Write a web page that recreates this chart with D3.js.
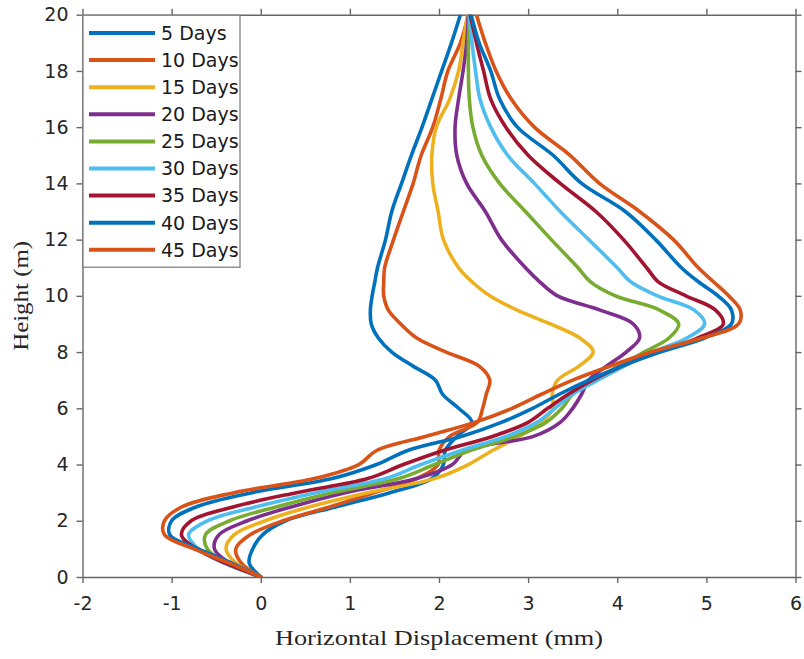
<!DOCTYPE html>
<html>
<head>
<meta charset="utf-8">
<script src="https://cdn.jsdelivr.net/npm/d3@7"></script>
<style>
  html, body { margin: 0; padding: 0; background: #fff; }
  svg { display: block; }
</style>
</head>
<body>
<svg id="chart" width="804" height="659"></svg>
<script>
// Heights (m) at which displacement was read
const heights = [0, 0.5, 1, 1.5, 2, 2.5, 3, 3.5, 4, 4.5, 5, 5.5, 6, 6.5, 7, 7.5, 8, 8.5, 9, 9.5, 10, 10.5, 11, 12, 13, 14, 15, 16, 17, 18, 19, 20];

// Horizontal displacement (mm) for each stage
const days5  = [0, -0.13, -0.09, 0.02, 0.28, 0.85, 1.45, 1.92, 2.05, 2.07, 2.20, 2.37, 2.22, 2.04, 1.96, 1.71, 1.47, 1.32, 1.24, 1.23, 1.25, 1.28, 1.31, 1.40, 1.47, 1.58, 1.69, 1.81, 1.92, 2.03, 2.14, 2.24];
const days10 = [0, -0.22, -0.28, -0.12, 0.25, 0.78, 1.28, 1.75, 1.99, 2.00, 2.12, 2.43, 2.49, 2.53, 2.57, 2.45, 2.08, 1.75, 1.57, 1.43, 1.38, 1.38, 1.39, 1.49, 1.60, 1.71, 1.80, 1.93, 2.02, 2.10, 2.24, 2.33];
const days15 = [0, -0.28, -0.39, -0.30, 0.05, 0.55, 1.20, 1.95, 2.33, 2.60, 2.90, 3.15, 3.28, 3.27, 3.33, 3.57, 3.73, 3.58, 3.25, 2.87, 2.57, 2.37, 2.22, 2.05, 1.99, 1.93, 1.92, 1.97, 2.12, 2.22, 2.27, 2.32];
const days20 = [0, -0.35, -0.52, -0.47, -0.15, 0.35, 0.95, 1.75, 2.15, 2.30, 3.06, 3.36, 3.50, 3.60, 3.68, 3.88, 4.10, 4.25, 4.18, 3.80, 3.33, 3.13, 2.97, 2.70, 2.52, 2.31, 2.20, 2.18, 2.22, 2.27, 2.31, 2.33];
const days25 = [0, -0.38, -0.60, -0.62, -0.35, 0.18, 0.80, 1.55, 1.95, 2.35, 2.85, 3.20, 3.38, 3.50, 3.75, 4.02, 4.30, 4.58, 4.69, 4.47, 3.98, 3.70, 3.56, 3.26, 2.97, 2.68, 2.48, 2.38, 2.34, 2.33, 2.33, 2.34];
const days30 = [0, -0.42, -0.70, -0.81, -0.60, -0.05, 0.62, 1.40, 1.80, 2.25, 2.75, 3.10, 3.30, 3.50, 3.78, 4.08, 4.40, 4.78, 4.98, 4.86, 4.45, 4.15, 4.00, 3.68, 3.36, 3.07, 2.77, 2.58, 2.46, 2.41, 2.37, 2.34];
const days35 = [0, -0.40, -0.72, -0.89, -0.78, -0.30, 0.40, 1.20, 1.60, 2.05, 2.60, 3.00, 3.22, 3.45, 3.72, 4.05, 4.45, 4.90, 5.19, 5.10, 4.77, 4.46, 4.33, 4.07, 3.76, 3.36, 3.00, 2.75, 2.58, 2.50, 2.42, 2.35];
const days40 = [0, -0.33, -0.70, -1.02, -1.00, -0.72, -0.10, 0.80, 1.30, 1.65, 2.25, 2.70, 3.05, 3.35, 3.68, 4.05, 4.48, 4.98, 5.28, 5.28, 5.13, 4.91, 4.72, 4.43, 4.09, 3.60, 3.28, 2.88, 2.68, 2.58, 2.45, 2.36];
const days45 = [0, -0.36, -0.75, -1.08, -1.08, -0.88, -0.30, 0.60, 1.10, 1.30, 1.85, 2.40, 2.82, 3.15, 3.50, 3.92, 4.38, 4.95, 5.36, 5.38, 5.25, 5.08, 4.91, 4.63, 4.25, 3.80, 3.47, 3.07, 2.81, 2.64, 2.52, 2.42];

const seriesNames = ["5 Days", "10 Days", "15 Days", "20 Days", "25 Days", "30 Days", "35 Days", "40 Days", "45 Days"];
const seriesValues = [days5, days10, days15, days20, days25, days30, days35, days40, days45];
const colors = ["#0072BD", "#D95319", "#EDB120", "#7E2F8E", "#77AC30", "#4DBEEE", "#A2142F", "#0072BD", "#D95319"];

const xTicks = [-2, -1, 0, 1, 2, 3, 4, 5, 6];
const yTicks = [0, 2, 4, 6, 8, 10, 12, 14, 16, 18, 20];

const plot = { left: 82.5, right: 795.5, top: 14.7, bottom: 577 };

const svg = d3.select("#chart");
const x = d3.scaleLinear().domain([-2, 6]).range([plot.left, plot.right]);
const y = d3.scaleLinear().domain([0, 20]).range([plot.bottom, plot.top]);

const axisColor = "#666";
const tickFont = "DejaVu Sans, sans-serif";

svg.append("defs").append("clipPath").attr("id", "clip")
  .append("rect").attr("x", plot.left).attr("y", plot.top)
  .attr("width", plot.right - plot.left).attr("height", plot.bottom - plot.top);

function styleAxis(g) {
  g.selectAll(".domain").attr("stroke", axisColor).attr("stroke-width", 1.4);
  g.selectAll(".tick line").attr("stroke", axisColor).attr("stroke-width", 1.4);
  g.selectAll(".tick text").attr("fill", "#262626").attr("font-family", tickFont).attr("font-size", 19);
}
const fmt = d => String(d);

const xAxis = svg.append("g").attr("transform", `translate(0,${plot.bottom})`)
  .call(d3.axisBottom(x).tickValues(xTicks).tickFormat(fmt).tickSize(6).tickPadding(14).tickSizeOuter(0));
styleAxis(xAxis);
const xAxisTop = svg.append("g").attr("transform", `translate(0,${plot.top})`)
  .call(d3.axisTop(x).tickValues(xTicks).tickFormat("").tickSize(6).tickSizeOuter(0));
styleAxis(xAxisTop);
const yAxis = svg.append("g").attr("transform", `translate(${plot.left},0)`)
  .call(d3.axisLeft(y).tickValues(yTicks).tickFormat(fmt).tickSize(6).tickPadding(8).tickSizeOuter(0));
styleAxis(yAxis);
const yAxisRight = svg.append("g").attr("transform", `translate(${plot.right},0)`)
  .call(d3.axisRight(y).tickValues(yTicks).tickFormat("").tickSize(6).tickSizeOuter(0));
styleAxis(yAxisRight);

const line = d3.line()
  .x(d => x(d[0]))
  .y(d => y(d[1]))
  .curve(d3.curveCatmullRom.alpha(0.5));

const lineG = svg.append("g").attr("clip-path", "url(#clip)");
seriesValues.forEach((vals, i) => {
  const pts = vals.map((v, j) => [v, heights[j]]);
  lineG.append("path")
    .datum(pts)
    .attr("d", line)
    .attr("fill", "none")
    .attr("stroke", colors[i])
    .attr("stroke-width", 3.6)
    .attr("stroke-linejoin", "round")
    .attr("stroke-linecap", "round");
});

svg.append("text")
  .attr("x", (plot.left + plot.right) / 2)
  .attr("y", 645)
  .attr("text-anchor", "middle")
  .attr("font-family", "Liberation Serif, Times New Roman, serif")
  .attr("font-size", 22)
  .attr("textLength", 328)
  .attr("lengthAdjust", "spacingAndGlyphs")
  .attr("fill", "#262626")
  .text("Horizontal Displacement (mm)");

svg.append("text")
  .attr("transform", `translate(28,${(plot.top + plot.bottom) / 2}) rotate(-90)`)
  .attr("text-anchor", "middle")
  .attr("font-family", "Liberation Serif, Times New Roman, serif")
  .attr("font-size", 22)
  .attr("textLength", 110)
  .attr("lengthAdjust", "spacingAndGlyphs")
  .attr("fill", "#262626")
  .text("Height (m)");

const legend = svg.append("g");
legend.append("rect")
  .attr("x", plot.left + 0.5).attr("y", plot.top + 0.5)
  .attr("width", 157).attr("height", 252)
  .attr("fill", "#fff").attr("stroke", "#777").attr("stroke-width", 1.2);
seriesNames.forEach((name, i) => {
  const cy = 33 + i * 27.1;
  legend.append("line")
    .attr("x1", 89).attr("x2", 155).attr("y1", cy).attr("y2", cy)
    .attr("stroke", colors[i]).attr("stroke-width", 4);
  legend.append("text")
    .attr("x", 161).attr("y", cy).attr("dy", "0.36em")
    .attr("font-family", tickFont).attr("font-size", 19)
    .attr("fill", "#1a1a1a")
    .text(name);
});
</script>
</body>
</html>
